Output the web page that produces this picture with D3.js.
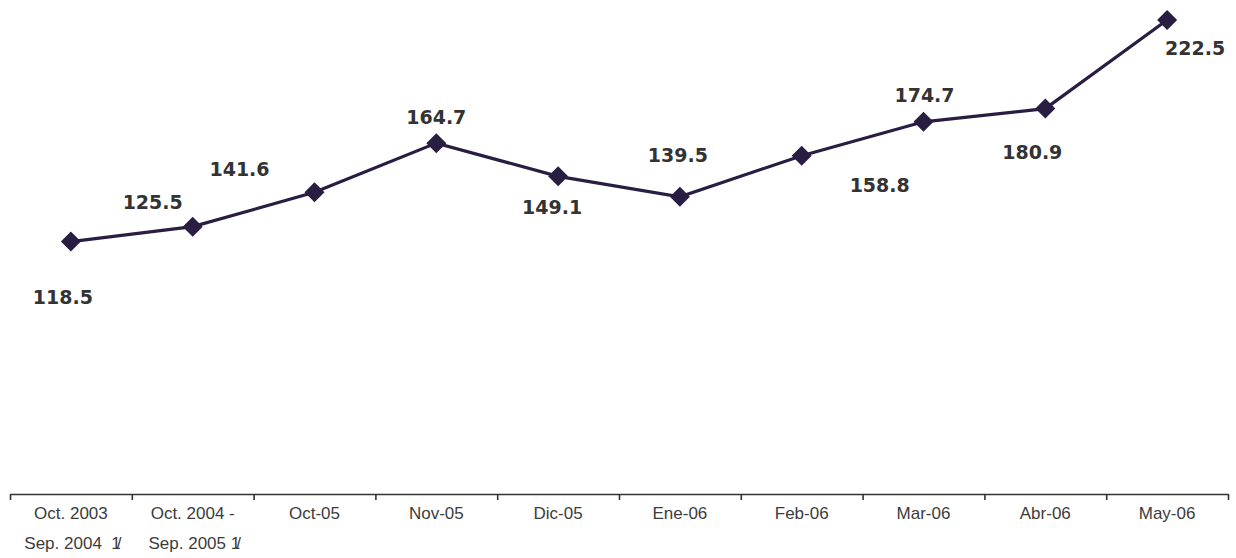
<!DOCTYPE html>
<html>
<head>
<meta charset="utf-8">
<script src="https://cdn.jsdelivr.net/npm/d3@7"></script>
<style>
  body { margin: 0; background: #fff; }
  svg { display: block; }
</style>
</head>
<body>
<div id="chart"></div>
<script>
// periods shown on the x axis (first two are 12-month averages, footnote 1/)
var periods = ["Oct. 2003|Sep. 2004", "Oct. 2004 -|Sep. 2005", "Oct-05", "Nov-05", "Dic-05",
               "Ene-06", "Feb-06", "Mar-06", "Abr-06", "May-06"];
var footnoted = [true, true, false, false, false, false, false, false, false, false];
var values = [118.5, 125.5, 141.6, 164.7, 149.1, 139.5, 158.8, 174.7, 180.9, 222.5];

// where each value label sits relative to its point
var labelDx = [-8, -40, -75, 0, -6, -2, 78, 1, -13, 28];
var labelDy = [62, -18, -16, -19, 38, -35, 36, -20, 50, 35];

var w = 1236, h = 558;
var left = 10, right = 1228, axisY = 494;

var svg = d3.select("#chart")
    .append("svg")
    .attr("width", w)
    .attr("height", h);

var x = d3.scaleBand()
    .domain(d3.range(periods.length))
    .range([left, right]);

var y = d3.scaleLinear()
    .domain([0, 222.5])
    .range([axisY, 20]);

// category boundary ticks
var edges = d3.scaleLinear().domain([0, periods.length]).range([left, right]);
var axisG = svg.append("g")
    .attr("transform", "translate(0," + axisY + ")")
    .call(d3.axisBottom(edges)
        .tickValues(d3.range(periods.length + 1))
        .tickFormat("")
        .tickSizeInner(6)
        .tickSizeOuter(0));
axisG.select(".domain").attr("stroke", "#333").attr("stroke-width", 1.6);
axisG.selectAll(".tick line").attr("stroke", "#333").attr("stroke-width", 1.6);

// category labels
var labG = svg.append("g")
    .attr("transform", "translate(0," + axisY + ")")
    .call(d3.axisBottom(x).tickSize(0).tickFormat(""));
labG.select(".domain").remove();

labG.selectAll(".tick").each(function (i) {
    var lines = periods[i].split("|");
    var t = d3.select(this).append("text")
        .attr("fill", "#3c3c3c")
        .attr("text-anchor", "middle")
        .style("font-family", "'Liberation Sans', Arial, sans-serif")
        .style("font-size", "17px");
    lines.forEach(function (ln, k) {
        var ts = t.append("tspan")
            .attr("x", 0)
            .attr("y", 25 + k * 30)
            .text(ln);
        if (k == lines.length - 1 && footnoted[i]) {
            t.append("tspan").text(k == 1 && i == 0 ? "  " : " ").attr("xml:space", "preserve");
            t.append("tspan").text("1/").style("letter-spacing", "-4px");
        }
    });
});

// line
var line = d3.line()
    .x(function (d, i) { return x(i) + x.bandwidth() / 2; })
    .y(function (d) { return y(d); });

svg.append("path")
    .datum(values)
    .attr("fill", "none")
    .attr("stroke", "#2a1d42")
    .attr("stroke-width", 3.2)
    .attr("d", line);

// diamond markers
svg.selectAll(".pt")
    .data(values)
    .enter()
    .append("path")
    .attr("class", "pt")
    .attr("d", d3.symbol().type(d3.symbolSquare).size(200))
    .attr("fill", "#2a1d42")
    .attr("transform", function (d, i) {
        return "translate(" + (x(i) + x.bandwidth() / 2) + "," + y(d) + ") rotate(45)";
    });

// value labels
svg.selectAll(".val")
    .data(values)
    .enter()
    .append("text")
    .attr("class", "val")
    .attr("x", function (d, i) { return x(i) + x.bandwidth() / 2 + labelDx[i]; })
    .attr("y", function (d, i) { return y(d) + labelDy[i]; })
    .attr("text-anchor", "middle")
    .attr("fill", "#333")
    .style("font-family", "'DejaVu Sans', Verdana, sans-serif")
    .style("font-weight", "bold")
    .style("font-size", "19px")
    .text(function (d) { return d3.format(".1f")(d); });
</script>
</body>
</html>
